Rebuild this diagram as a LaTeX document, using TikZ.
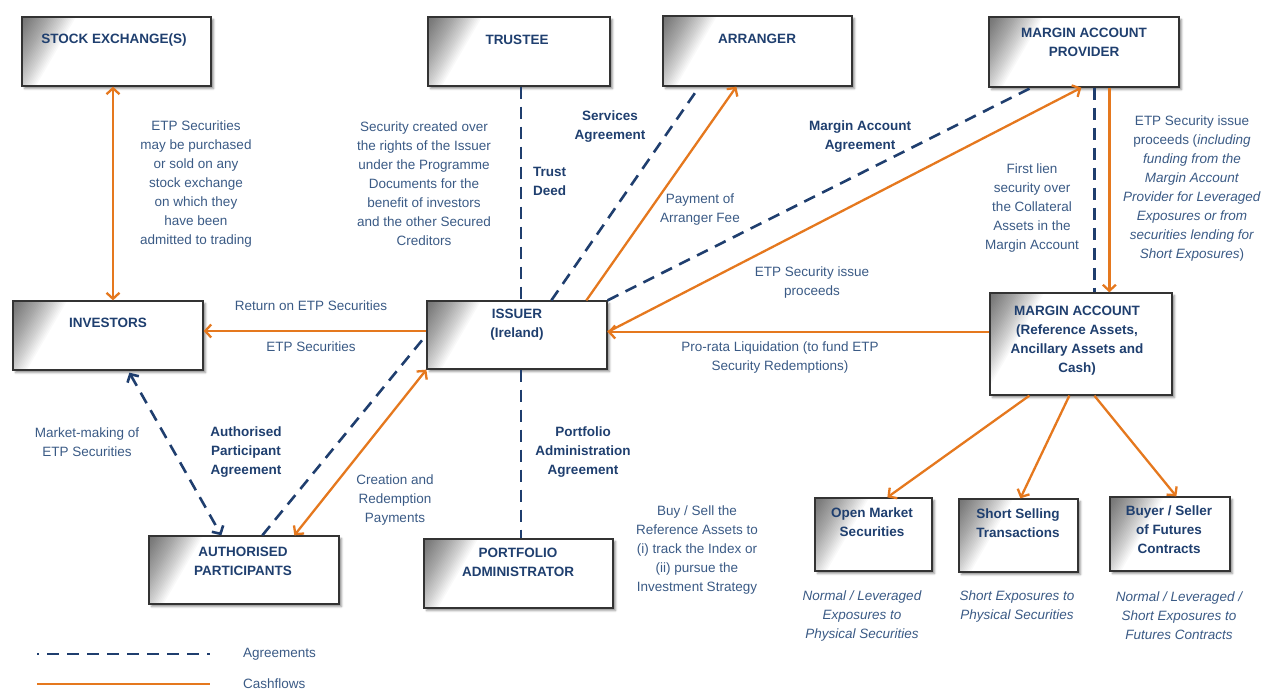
\documentclass[tikz,border=0pt]{standalone}
\usepackage{fontspec}
\setmainfont{Liberation Sans}
\usetikzlibrary{arrows.meta,shadows.blur,calc}
\definecolor{corange}{HTML}{E5781E}
\definecolor{cnavy}{HTML}{1F3E6E}
\definecolor{ctext}{HTML}{3A5A85}
\definecolor{cbold}{HTML}{1F3F6F}
\tikzset{
  ebox/.style={draw=black!80, line width=1.3pt, fill=white, inner sep=0pt,
    blur shadow={shadow xshift=2.5pt, shadow yshift=-2.5pt, shadow blur radius=2pt, shadow opacity=45},
    path picture={\foreach \k in {1,...,30}{\fill[black, opacity=0.024] (path picture bounding box.north west) -- ++(1.8*\k,0) -- ++(-1.8*\k,3.1*\k) -- cycle;}}},
  txt/.style={font=\fontsize{13.5}{19}\selectfont, text=ctext, align=center, inner sep=0pt},
  btxt/.style={txt, font=\fontsize{13.5}{19}\selectfont\bfseries, text=cbold},
  itxt/.style={txt, font=\fontsize{13.5}{19}\selectfont\itshape},
  tip/.tip={Straight Barb[length=6pt,width=13pt]},
  flow/.style={draw=corange, line width=2.3pt, -tip},
  flowboth/.style={draw=corange, line width=2.3pt, tip-tip},
  agr/.style={draw=cnavy, line width=2.6pt, dash pattern=on 12pt off 8pt},
  agrboth/.style={agr, tip-tip},
}
\begin{document}
\begin{tikzpicture}[x=1pt,y=-1pt]
\useasboundingbox (0,0) rectangle (1263,691);
% boxes
\node[ebox, minimum width=189pt, minimum height=69pt] (se) at (116.5,51.5) {};
\node[ebox, minimum width=182pt, minimum height=69pt] (tr) at (519,51.5) {};
\node[ebox, minimum width=189pt, minimum height=70pt] (ar) at (757.5,51) {};
\node[ebox, minimum width=190pt, minimum height=70pt] (map) at (1084,52) {};
\node[ebox, minimum width=190pt, minimum height=69pt] (inv) at (108,335.5) {};
\node[ebox, minimum width=180pt, minimum height=68pt] (iss) at (517,335) {};
\node[ebox, minimum width=182pt, minimum height=102pt] (ma) at (1081,344) {};
\node[ebox, minimum width=190pt, minimum height=68pt] (ap) at (244,570) {};
\node[ebox, minimum width=189pt, minimum height=69pt] (pa) at (518.5,573.5) {};
\node[ebox, minimum width=117pt, minimum height=73pt] (om) at (873.5,534.5) {};
\node[ebox, minimum width=119pt, minimum height=73pt] (ss) at (1018.5,535.5) {};
\node[ebox, minimum width=120pt, minimum height=74pt] (fu) at (1170,534) {};
% titles
\node[btxt] (se-t) at (114,40) {STOCK EXCHANGE(S)};
\node[btxt] (tr-t) at (517,40) {TRUSTEE};
\node[btxt] (ar-t) at (757,39) {ARRANGER};
\node[btxt] (map-t) at (1084,42) {MARGIN ACCOUNT\\PROVIDER};
\node[btxt] (inv-t) at (108,323) {INVESTORS};
\node[btxt] (iss-t) at (517,324.5) {ISSUER\\(Ireland)};
\node[btxt] (ma-t) at (1077,341) {MARGIN ACCOUNT\\(Reference Assets,\\Ancillary Assets and\\Cash)};
\node[btxt] (ap-t) at (243,561.5) {AUTHORISED\\PARTICIPANTS};
\node[btxt] (pa-t) at (518,562.5) {PORTFOLIO\\ADMINISTRATOR};
\node[btxt] (om-t) at (872,522.5) {Open Market\\Securities};
\node[btxt] (ss-t) at (1018,523.5) {Short Selling\\Transactions};
\node[btxt] (fu-t) at (1169,530) {Buyer / Seller\\of Futures\\Contracts};
% captions
\node[itxt] (om-c) at (862,616) {Normal / Leveraged\\Exposures to\\Physical Securities};
\node[itxt] (ss-c) at (1017,606.5) {Short Exposures to\\Physical Securities};
\node[itxt] (fu-c) at (1179,616) {Normal / Leveraged /\\Short Exposures to\\Futures Contracts};
% labels
\node[txt] (l-se) at (196,184) {ETP Securities\\may be purchased\\or sold on any\\stock exchange\\on which they\\have been\\admitted to trading};
\node[txt] (l-sec) at (424,184) {Security created over\\the rights of the Issuer\\under the Programme\\Documents for the\\benefit of investors\\and the other Secured\\Creditors};
\node[btxt, anchor=west, align=left] (l-td) at (533,181.5) {Trust\\Deed};
\node[btxt] (l-sa) at (610,126.5) {Services\\Agreement};
\node[txt] (l-pay) at (700,209.5) {Payment of\\Arranger Fee};
\node[btxt] (l-maa) at (860,136.5) {Margin Account\\Agreement};
\node[txt] (l-lien) at (1032,208) {First lien\\security over\\the Collateral\\Assets in the\\Margin Account};
\node[txt] (l-proc) at (1192,188.5) {ETP Security issue\\proceeds (\textit{including}\\\textit{funding from the}\\\textit{Margin Account}\\\textit{Provider for Leveraged}\\\textit{Exposures or from}\\\textit{securities lending for}\\\textit{Short Exposures})};
\node[txt] (l-proc2) at (812,282.5) {ETP Security issue\\proceeds};
\node[txt] (l-ret) at (311,306) {Return on ETP Securities};
\node[txt] (l-etp) at (311,347) {ETP Securities};
\node[txt] (l-pro) at (780,357.5) {Pro-rata Liquidation (to fund ETP\\Security Redemptions)};
\node[txt] (l-mm) at (87,442.5) {Market-making of\\ETP Securities};
\node[btxt] (l-apa) at (246,452) {Authorised\\Participant\\Agreement};
\node[txt] (l-cr) at (395,500) {Creation and\\Redemption\\Payments};
\node[btxt] (l-paa) at (583,452) {Portfolio\\Administration\\Agreement};
\node[txt] (l-buy) at (697,549.5) {Buy / Sell the\\Reference Assets to\\(i) track the Index or\\(ii) pursue the\\Investment Strategy};
% connectors: agreements
\draw[agr] ([xshift=2pt]tr.south) -- ([xshift=4pt]iss.north);
\draw[agr] ([xshift=125pt]iss.north west) -- ([xshift=37pt]ar.south west);
\draw[agr] (iss.north east) -- ([xshift=43pt]map.south west);
\draw[agr] ([xshift=106pt]map.south west) -- ([xshift=105pt]ma.north west);
\draw[agrboth] ([xshift=117pt,yshift=-2pt]inv.south west) -- ([xshift=73pt]ap.north west);
\draw[agr] ([xshift=114pt]ap.north west) -- (iss.west);
\draw[agr] ([xshift=4pt]iss.south) -- ([xshift=2.5pt]pa.north);
% connectors: cashflows
\draw[flowboth] ([xshift=-3.5pt]se.south) -- ([xshift=5pt]inv.north);
\draw[flow] ([xshift=160pt]iss.north west) -- ([xshift=74pt]ar.south west);
\draw[flow] ([yshift=3pt]iss.east) -- ([xshift=93pt]map.south west);
\draw[flow] ([xshift=121pt]map.south west) -- ([xshift=120pt]ma.north west);
\draw[flow] ([yshift=12pt]ma.west) -- ([yshift=3pt]iss.east);
\draw[flow] ([yshift=4pt]iss.west) -- ([yshift=4.5pt]inv.east);
\draw[flowboth] ([xshift=146pt]ap.north west) -- (iss.south west);
\draw[flow] ([xshift=40pt]ma.south west) -- ([xshift=73pt]om.north west);
\draw[flow] ([xshift=80pt]ma.south west) -- ([xshift=62pt]ss.north west);
\draw[flow] ([xshift=105pt]ma.south west) -- ([xshift=67pt]fu.north west);
% legend
\coordinate (lg1a) at (37,654);
\coordinate (lg1b) at (210,654);
\coordinate (lg2a) at (37,684);
\coordinate (lg2b) at (210,684);
\draw[agr, dash phase=10pt] (lg1a) -- (lg1b);
\draw[draw=corange, line width=2.3pt] (lg2a) -- (lg2b);
\node[txt, anchor=west] (lg-a) at (243,654) {Agreements};
\node[txt, anchor=west] (lg-c) at (243,684) {Cashflows};
\end{tikzpicture}
\end{document}
